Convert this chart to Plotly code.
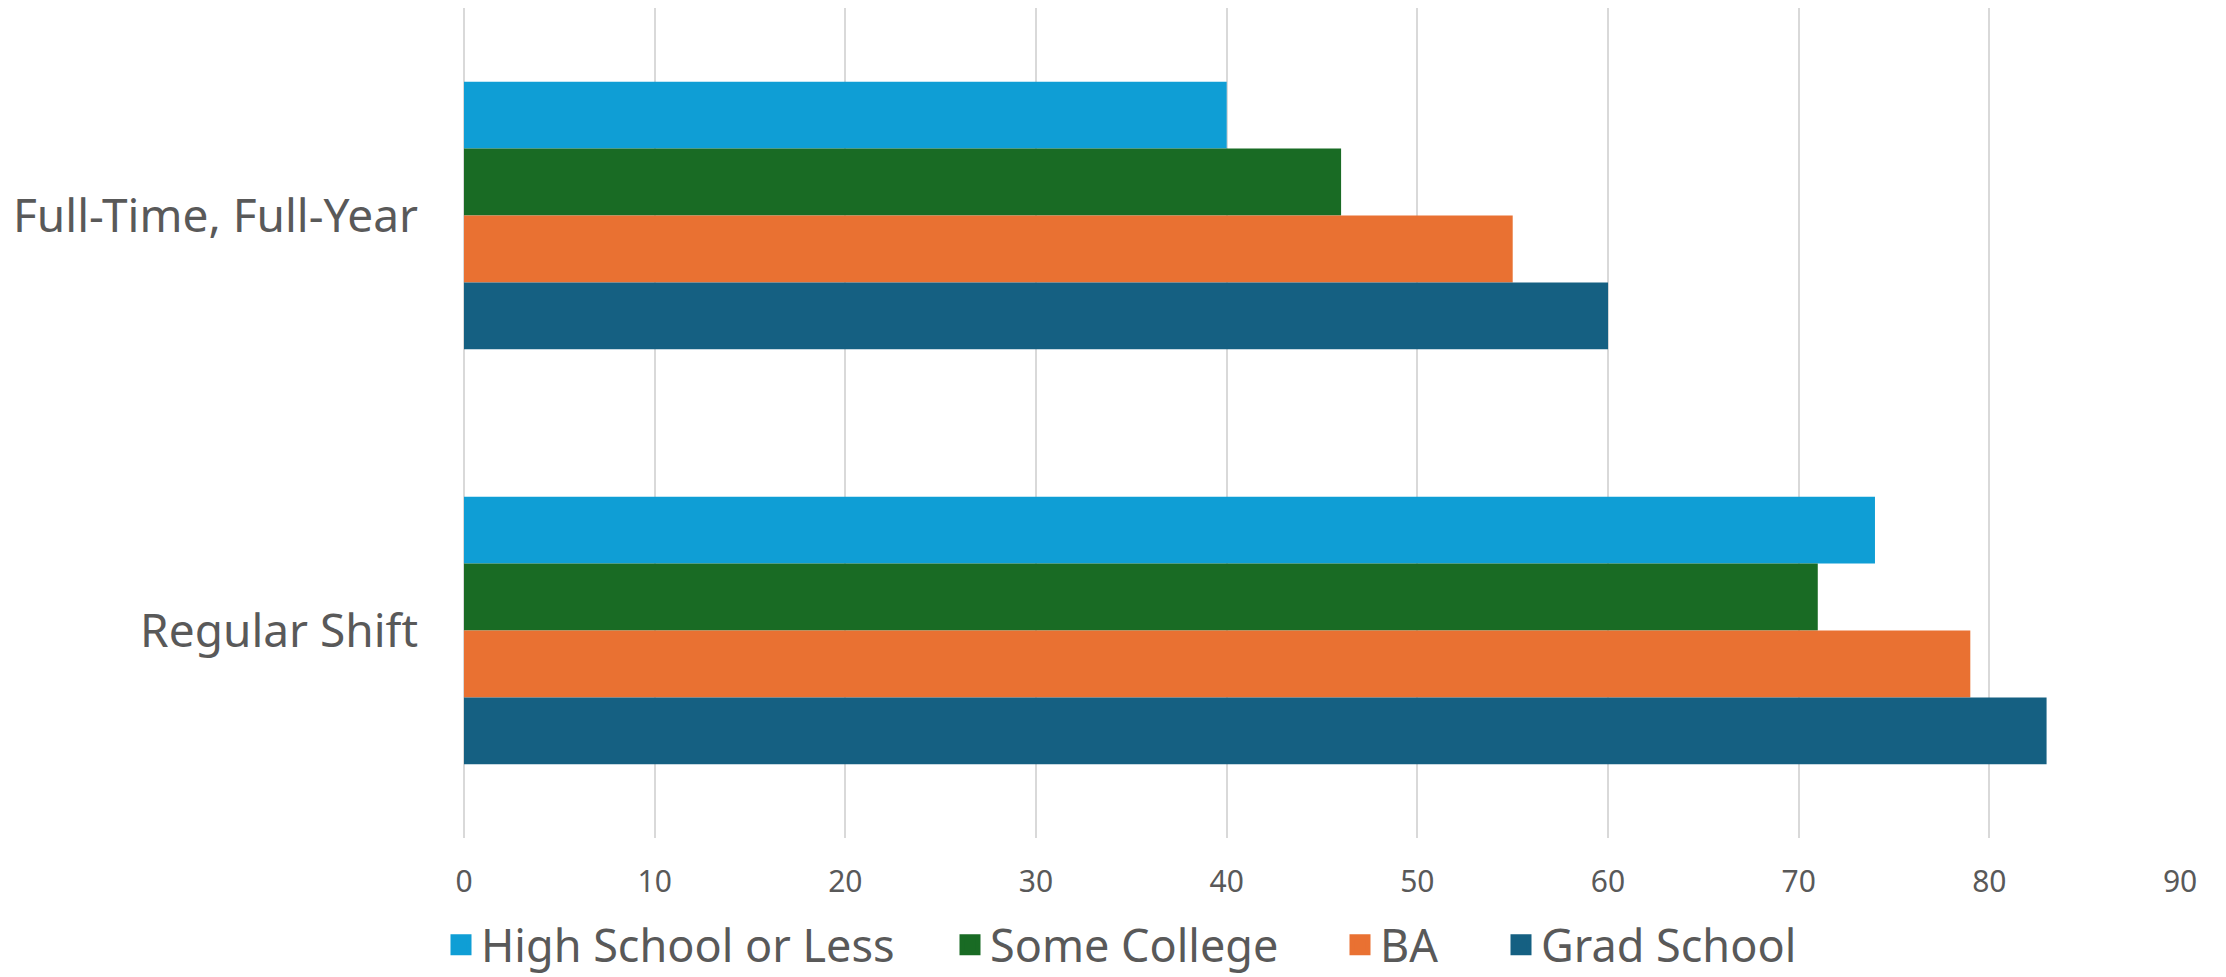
import plotly.graph_objects as go

categories = ["Full-Time, Full-Year", "Regular Shift"]
series_names = ["High School or Less", "Some College", "BA", "Grad School"]
high_school = [40, 74]
some_college = [46, 71]
ba = [55, 79]
grad_school = [60, 83]
x_ticks = [0, 10, 20, 30, 40, 50, 60, 70, 80, 90]

colors = ["#0F9ED5", "#196B24", "#E97132", "#156082"]
values = [high_school, some_college, ba, grad_school]

# page body has an 8px margin, so the figure is sized to fit the window
W, H = 2218, 969
legend_ids = ["legend", "legend2", "legend3", "legend4"]
legend_left = [433, 942, 1332, 1493]

fig = go.Figure()
for name, vals, col in zip(series_names, values, colors):
    fig.add_trace(go.Bar(
        y=categories, x=vals, name=name, orientation="h",
        marker=dict(color=col, line=dict(width=0)), showlegend=False,
    ))
# legend entries with larger square swatches, one legend each for exact spacing
for name, col, lid in zip(series_names, colors, legend_ids):
    fig.add_trace(go.Scatter(
        x=[None], y=[None], mode="markers", name=name, legend=lid,
        marker=dict(symbol="square", size=16, color=col, line=dict(color=col, width=10)),
        showlegend=True,
    ))

legend_common = dict(
    orientation="h", xref="container", yref="paper",
    xanchor="left", y=-0.129, yanchor="middle",
    font=dict(size=45, color="#595959"), itemwidth=30,
    bgcolor="rgba(0,0,0,0)",
)

layout_legends = {}
for lid, lx in zip(legend_ids, legend_left):
    layout_legends[lid] = dict(legend_common, x=lx / W)

fig.update_layout(
    width=W, height=H,
    paper_bgcolor="white", plot_bgcolor="white",
    font=dict(family="Noto Sans", color="#595959"),
    barmode="group", bargap=0.355, bargroupgap=0,
    margin=dict(l=456, r=45, t=0, b=139, autoexpand=False),
    xaxis=dict(
        range=[0, 90.05], tickvals=x_ticks, showgrid=True, gridcolor="#D9D9D9",
        gridwidth=1.5, zeroline=True, zerolinecolor="#D9D9D9", zerolinewidth=1.5,
        showline=False,
        tickfont=dict(size=30, color="#595959"), ticks="", ticklabelstandoff=23,
    ),
    yaxis=dict(
        autorange="reversed", showgrid=False, zeroline=False, showline=False,
        tickfont=dict(size=46, color="#595959"), ticks="", ticklabelstandoff=45,
    ),
    **layout_legends,
)

fig.write_html("out.html")
